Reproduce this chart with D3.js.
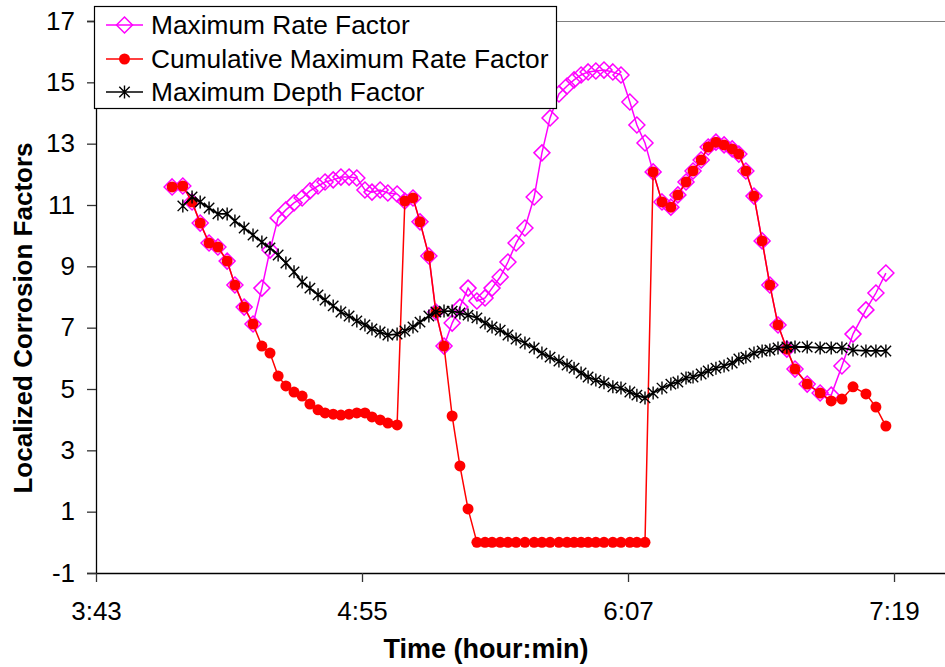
<!DOCTYPE html>
<html>
<head>
<meta charset="utf-8">
<script src="https://cdn.jsdelivr.net/npm/d3@7"></script>
<style>
  body { margin: 0; background: #fff; }
  text { font-family: "Liberation Sans", Arial, sans-serif; }
</style>
</head>
<body>
<svg id="chart" width="945" height="667"></svg>
<script>
// Sample times, minutes after midnight
const timeMin = [
  243.6, 246.5, 249.0, 251.2, 253.6, 256.0, 258.5, 260.6, 263.1, 265.5,
  267.9, 270.1, 272.3, 274.4, 276.6, 278.8, 280.9, 283.1, 285.0, 287.2, 289.3, 291.5, 293.6, 295.8, 297.7, 299.9, 302.0, 304.5,
  306.6, 308.8, 310.7, 313.1, 315.0, 317.2, 319.4, 321.5, 323.7,
  326.1, 328.3, 330.2, 332.4, 334.5, 336.7, 339.1, 341.6, 343.7, 345.9, 348.3, 350.5, 352.4, 354.3, 356.2, 358.3, 360.5, 362.9, 365.1, 367.5, 369.4, 371.6,
  373.8, 376.2, 378.6, 380.5, 382.7, 384.6, 386.8, 388.7, 390.8, 393.0, 395.2, 397.0, 398.9, 401.1, 403.3, 405.4, 407.6, 410.0, 412.2,
  415.5, 419.0, 422.0, 424.9, 427.9, 431.4, 434.1, 436.8
];

const maxRate = [
  11.59, 11.62, 11.10, 10.41, 9.76, 9.63, 9.17, 8.39, 7.67, 7.12,
  8.29, 9.53, 10.58, 10.84, 11.07, 11.23, 11.46, 11.62, 11.75, 11.82, 11.91, 11.91, 11.88, 11.49, 11.42, 11.49, 11.39, 11.36,
  11.13, 11.23, 10.45, 9.34, 7.51, 6.40, 7.15, 7.67, 8.29,
  7.87, 7.97, 8.29, 8.65, 9.14, 9.76, 10.25, 11.26, 12.70, 13.84, 14.62, 14.88, 15.08, 15.24, 15.34, 15.37, 15.40, 15.34, 15.24, 14.36, 13.61, 13.02,
  12.08, 11.10, 10.93, 11.33, 11.75, 12.11, 12.47, 12.89, 13.05, 12.96, 12.83, 12.66, 12.11, 11.29, 9.83, 8.39, 7.09, 6.30, 5.65,
  5.16, 4.87, 4.80, 5.75, 6.79, 7.58, 8.13, 8.78
];

const cumMaxRate = [
  11.59, 11.62, 11.10, 10.41, 9.76, 9.63, 9.17, 8.39, 7.67, 7.12,
  6.40, 6.17, 5.42, 5.10, 4.90, 4.77, 4.51, 4.32, 4.22, 4.18, 4.15, 4.18, 4.22, 4.22, 4.09, 3.99, 3.89, 3.83,
  11.13, 11.23, 10.45, 9.34, 7.51, 6.40, 4.12, 2.49, 1.09,
  0, 0, 0, 0, 0, 0, 0, 0, 0, 0, 0, 0, 0, 0, 0, 0, 0, 0, 0, 0, 0, 0,
  12.08, 11.10, 10.93, 11.33, 11.75, 12.11, 12.47, 12.89, 13.05, 12.96, 12.83, 12.66, 12.11, 11.29, 9.83, 8.39, 7.09, 6.30, 5.65,
  5.16, 4.87, 4.61, 4.67, 5.07, 4.84, 4.41, 3.79
];

const maxDepth = [
  null, 10.97, 11.26, 11.10, 10.90, 10.71, 10.71, 10.48, 10.25, 10.02,
  9.79, 9.60, 9.37, 9.11, 8.82, 8.49, 8.29, 8.07, 7.90, 7.71, 7.51, 7.38, 7.22, 7.09, 6.96, 6.86, 6.76, 6.79,
  6.89, 7.02, 7.18, 7.38, 7.51, 7.54, 7.54, 7.48, 7.41,
  7.32, 7.15, 7.02, 6.92, 6.76, 6.63, 6.50, 6.34, 6.17, 6.04, 5.91, 5.78, 5.68, 5.52, 5.39, 5.29, 5.20, 5.07, 5.03, 4.90, 4.80, 4.71,
  4.87, 5.03, 5.16, 5.23, 5.36, 5.39, 5.49, 5.59, 5.68, 5.75, 5.85, 5.98, 6.04, 6.17, 6.24, 6.27, 6.34, 6.37, 6.37,
  6.37, 6.34, 6.34, 6.34, 6.27, 6.24, 6.24, 6.24
];

const seriesNames = ["Maximum Rate Factor", "Cumulative Maximum Rate Factor", "Maximum Depth Factor"];
const yTicks = [-1, 1, 3, 5, 7, 9, 11, 13, 15, 17];
const xTickLabels = ["3:43", "4:55", "6:07", "7:19"];
const xTitle = "Time (hour:min)";
const yTitle = "Localized Corrosion Factors";

const toMin = s => { const [h, m] = s.split(":").map(Number); return h * 60 + m; };

const svg = d3.select("#chart");
const plotLeft = 96, plotRight = 945, plotTop = 21, plotBottom = 573;

const x = d3.scaleLinear().domain([toMin(xTickLabels[0]), toMin(xTickLabels[0]) + 229.8]).range([plotLeft, plotRight]);
const y = d3.scaleLinear().domain([-1, 17]).range([plotBottom, plotTop]);

// plot frame top edge
svg.append("line").attr("x1", plotLeft).attr("x2", plotRight).attr("y1", plotTop + 0.5).attr("y2", plotTop + 0.5)
  .attr("stroke", "#808080").attr("stroke-width", 1);

// axes
const yAxis = svg.append("g").attr("transform", `translate(${plotLeft},0)`)
  .call(d3.axisLeft(y).tickValues(yTicks).tickSize(9).tickPadding(12).tickFormat(d => String(d)));
const xAxis = svg.append("g").attr("transform", `translate(0,${plotBottom})`)
  .call(d3.axisBottom(x).tickValues(xTickLabels.map(toMin)).tickSize(9).tickPadding(20)
    .tickFormat((d, i) => xTickLabels[i]));
[yAxis, xAxis].forEach(g => {
  g.select(".domain").attr("stroke", "#000").attr("stroke-width", 1.3);
  g.selectAll(".tick line").attr("stroke", "#333").attr("stroke-width", 1.3);
  g.selectAll("text").attr("font-size", 26).attr("fill", "#000")
    .attr("font-family", "'Liberation Sans', Arial, sans-serif");
});
xAxis.select(".domain").attr("d", `M${plotLeft},0.5H${plotRight}`);

// axis titles
svg.append("text").attr("x", 486).attr("y", 658).attr("text-anchor", "middle")
  .attr("font-size", 27).attr("font-weight", "bold").text(xTitle);
svg.append("text").attr("transform", "translate(32,318) rotate(-90)").attr("text-anchor", "middle")
  .attr("font-size", 26).attr("font-weight", "bold").text(yTitle);

const colors = ["#FF00FF", "#FF0000", "#000000"];
const seriesData = [maxRate, cumMaxRate, maxDepth].map(vals =>
  timeMin.map((t, i) => ({ t, v: vals[i] })).filter(d => d.v !== null));

const line = d3.line().x(d => x(d.t)).y(d => y(d.v));

const diamond = s => `M0,${-s}L${s},0L0,${s}L${-s},0Z`;
const star = s => `M${-s * 0.8},${-s * 0.8}L${s * 0.8},${s * 0.8}M${-s * 0.8},${s * 0.8}L${s * 0.8},${-s * 0.8}M0,${-s}L0,${s}`;

function drawMarker(g, k) {
  if (k === 0) {
    g.append("path").attr("d", diamond(8)).attr("fill", "none").attr("stroke", colors[0]).attr("stroke-width", 1.5);
  } else if (k === 1) {
    g.append("circle").attr("r", 5.5).attr("fill", colors[1]);
  } else {
    g.append("path").attr("d", star(6.5)).attr("fill", "none").attr("stroke", colors[2]).attr("stroke-width", 1.4);
  }
}

seriesData.forEach((data, k) => {
  const g = svg.append("g");
  g.append("path").datum(data).attr("d", line).attr("fill", "none")
    .attr("stroke", colors[k]).attr("stroke-width", k === 2 ? 1.8 : 1.5);
  g.selectAll("g.m").data(data).join("g").attr("class", "m")
    .attr("transform", d => `translate(${x(d.t)},${y(d.v)})`)
    .each(function () { drawMarker(d3.select(this), k); });
});

// legend
const lg = svg.append("g");
lg.append("rect").attr("x", 94.5).attr("y", 6.5).attr("width", 462).attr("height", 102)
  .attr("fill", "#fff").attr("stroke", "#000").attr("stroke-width", 1.2);
const rowY = [25, 59, 92];
seriesNames.forEach((name, k) => {
  lg.append("line").attr("x1", 106).attr("x2", 143).attr("y1", rowY[k]).attr("y2", rowY[k])
    .attr("stroke", colors[k]).attr("stroke-width", 1.5);
  const m = lg.append("g").attr("transform", `translate(124.5,${rowY[k]})`);
  drawMarker(m, k);
  lg.append("text").attr("x", 151).attr("y", rowY[k]).attr("dy", "0.36em")
    .attr("font-size", 26.3).text(name);
});
</script>
</body>
</html>
